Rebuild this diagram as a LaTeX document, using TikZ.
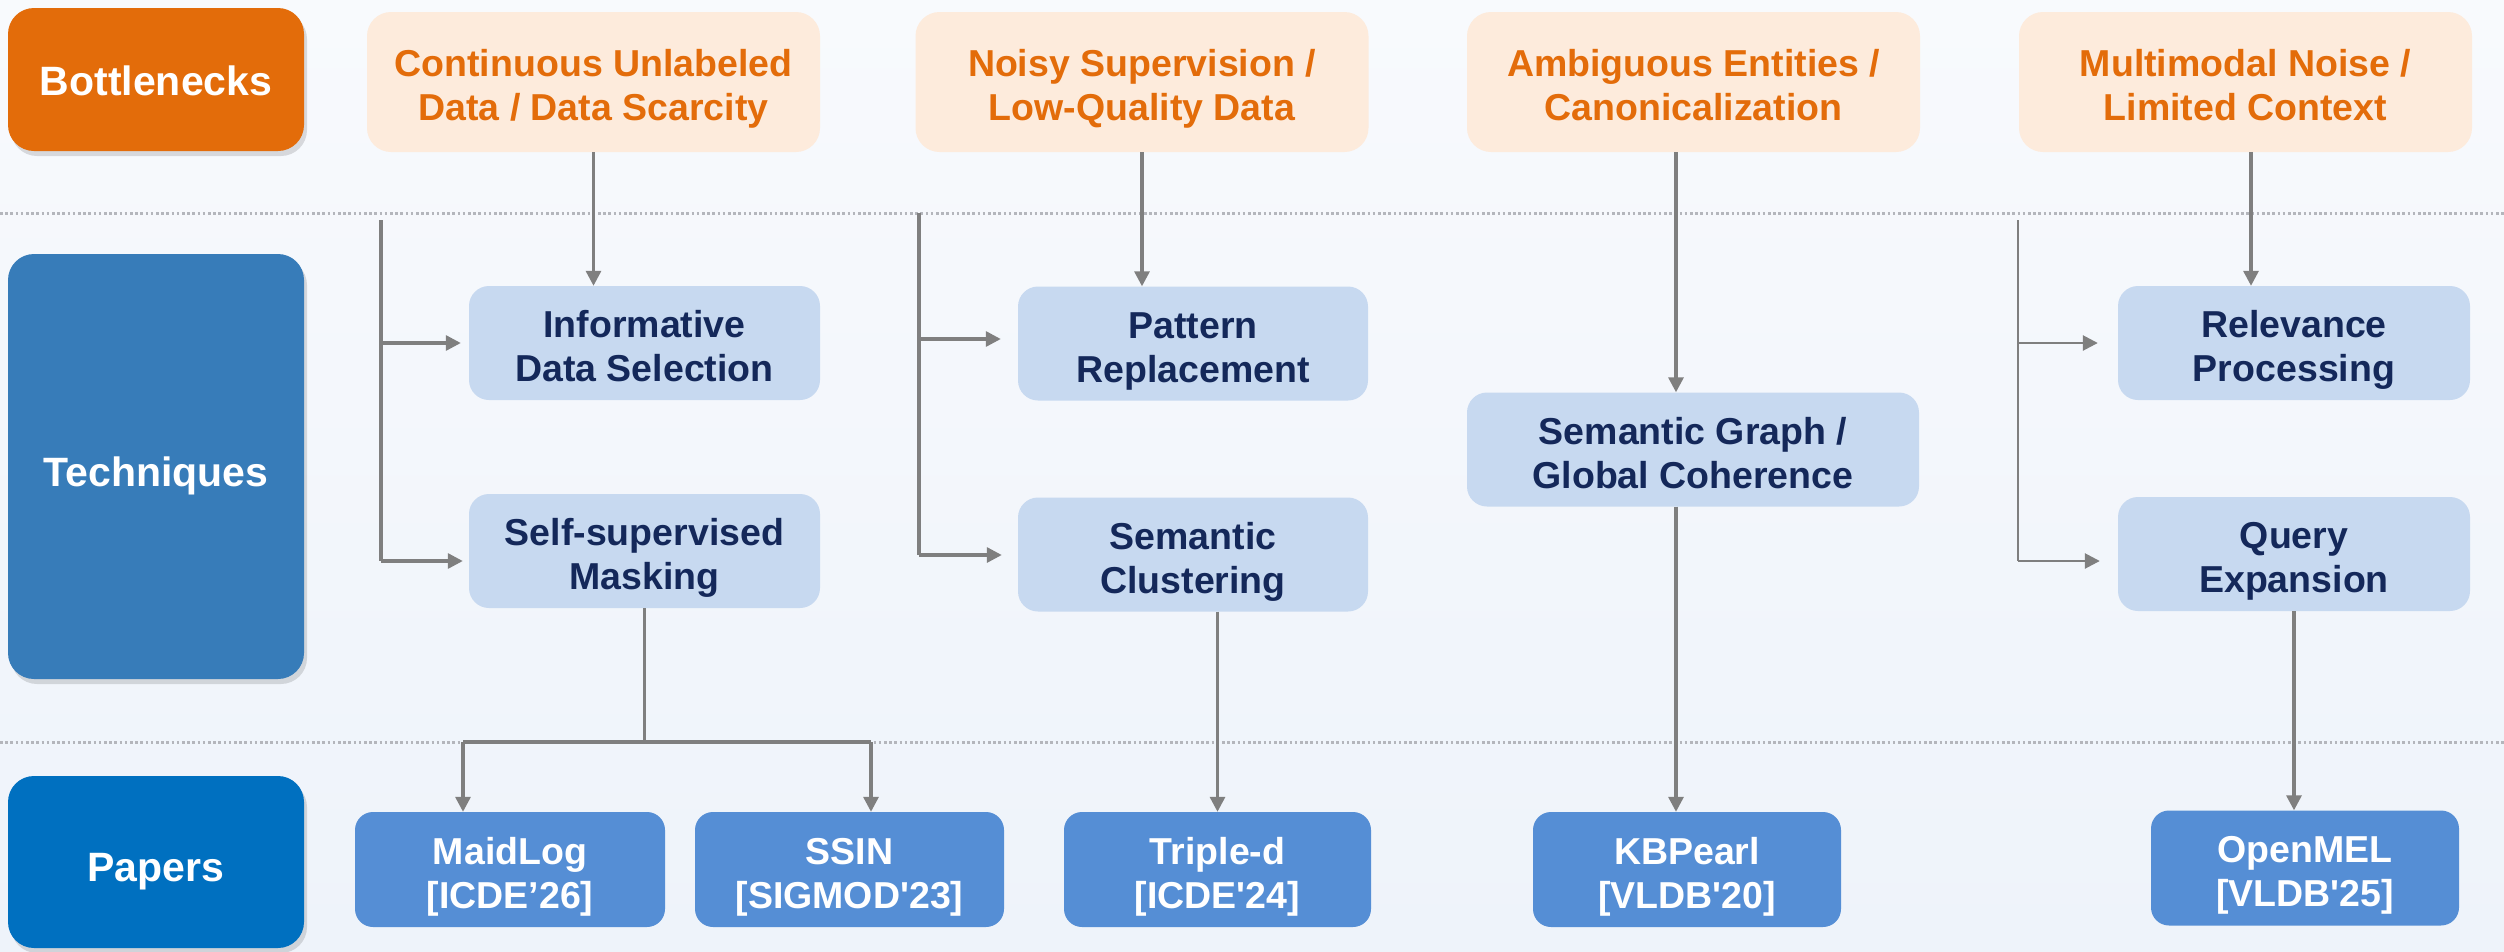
\documentclass[tikz,border=0pt]{standalone}
\usepackage{fontspec}
\newfontfamily\diafont{Liberation Sans}
\usetikzlibrary{arrows.meta,shadows}

\definecolor{bgtop}{RGB}{248,250,253}
\definecolor{bgbot}{RGB}{238,243,250}
\definecolor{orangebox}{RGB}{227,108,10}
\definecolor{techblue}{RGB}{55,124,185}
\definecolor{paperblue}{RGB}{0,112,192}
\definecolor{peach}{RGB}{253,235,220}
\definecolor{issuetext}{RGB}{227,108,10}
\definecolor{techfill}{RGB}{199,217,240}
\definecolor{navy}{RGB}{20,40,90}
\definecolor{paperfill}{RGB}{85,142,213}
\definecolor{linkgray}{RGB}{127,127,127}
\definecolor{sepgray}{RGB}{180,182,188}

\begin{document}
\begin{tikzpicture}[x=1pt,y=-1pt,
  % two-line labels: the text box reaches from a little above the cap line
  % of the first line down to the baseline of the second
  txt/.style={align=center, inner sep=0pt,
    font=\diafont\bfseries\fontsize{37.5}{44}\selectfont,
    text height=77.5pt, text depth=0pt},
  cat/.style={align=center, inner sep=0pt, rounded corners=26pt, text=white,
    font=\diafont\bfseries\fontsize{41}{48}\selectfont,
    text height=32.5pt, text depth=0pt,
    minimum width=296pt,
    drop shadow={shadow xshift=3pt, shadow yshift=-5pt, opacity=0.13, fill=black}},
  issue/.style={txt, fill=peach, rounded corners=24pt, text=issuetext,
    minimum width=453pt, minimum height=140pt},
  tech/.style={txt, fill=techfill, rounded corners=20pt, text=navy,
    minimum height=114pt},
  paper/.style={txt, fill=paperfill, rounded corners=18pt, text=white,
    minimum width=308pt, minimum height=115pt},
  link/.style={draw=linkgray, line width=3.2pt},
  arr/.style={link, -{Triangle[length=15pt,width=15pt]}},
  sep/.style={draw=sepgray, line width=3pt, dash pattern=on 2.6pt off 2.6pt}
]
\useasboundingbox (0,0) rectangle (2504,951);
\shade[top color=bgtop, bottom color=bgbot] (0,0) rectangle (2504,951);

% row separators
\coordinate (sepA) at (0,213);
\coordinate (sepB) at (0,742);
\draw[sep] (sepA) -- ++(2504,0);
\draw[sep] (sepB) -- ++(2504,0);

% row headers
\node[cat, fill=orangebox, minimum height=143pt] (hb) at (156,79.5) {Bottlenecks};
\node[cat, fill=techblue, minimum height=425pt, text height=39.5pt] (ht) at (156,466.5) {Techniques};
\node[cat, fill=paperblue, minimum height=172pt, text height=39.5pt] (hp) at (156,862) {Papers};

% bottlenecks
\node[issue] (b1) at (593.5,82) {Continuous Unlabeled\\Data / Data Scarcity};
\node[issue] (b2) at (1142,82) {Noisy Supervision /\\Low-Quality Data};
\node[issue] (b3) at (1693.5,82) {Ambiguous Entities /\\Canonicalization};
\node[issue] (b4) at (2245.5,82) {Multimodal Noise /\\Limited Context};

% techniques
\node[tech, minimum width=351pt] (t1) at (644.5,343) {Informative\\Data Selection};
\node[tech, minimum width=351pt] (t2) at (644.5,551) {Self-supervised\\Masking};
\node[tech, minimum width=350pt] (t3) at (1193,343.5) {Pattern\\Replacement};
\node[tech, minimum width=350pt] (t4) at (1193,554.5) {Semantic\\Clustering};
\node[tech, minimum width=452pt] (t5) at (1693,449.5) {Semantic Graph /\\Global Coherence};
\node[tech, minimum width=352pt] (t6) at (2294,343) {Relevance\\Processing};
\node[tech, minimum width=352pt] (t7) at (2294,554) {Query\\Expansion};

% papers
\node[paper, minimum width=310pt] (p1) at (510,869.5) {MaidLog\\{[ICDE’26]}};
\node[paper, minimum width=309pt] (p2) at (849.5,869.5) {SSIN\\{[SIGMOD'23]}};
\node[paper, minimum width=307pt] (p3) at (1217.5,869.5) {Triple-d\\{[ICDE'24]}};
\node[paper] (p4) at (1687,869.5) {KBPearl\\{[VLDB'20]}};
\node[paper] (p5) at (2305,868) {OpenMEL\\{[VLDB'25]}};

% bottleneck -> technique
\coordinate (c3) at (1676,0);
\coordinate (c4) at (2251,0);
\draw[arr] (b1.south) -- (b1.south |- t1.north);
\draw[arr] (b2.south) -- (b2.south |- t3.north);
\draw[arr] (b3.south -| c3) -- (t5.north -| c3);
\draw[arr] (b4.south -| c4) -- (t6.north -| c4);

% bracket feeding column 1
\coordinate (k1) at (381,220);
\coordinate (k1b) at (381,561);
\draw[link] (k1) -- (k1b);
\draw[arr, shorten >=8pt] (k1 |- t1.west) -- (t1.west);
\draw[arr, shorten >=6pt] (k1b) -- (k1b -| t2.west);

% bracket feeding column 2
\coordinate (k2) at (919,213);
\coordinate (k2a) at (919,339);
\coordinate (k2b) at (919,555);
\draw[link] (k2) -- (k2b);
\draw[arr, shorten >=17pt] (k2a) -- (k2a -| t3.west);
\draw[arr, shorten >=16pt] (k2b) -- (k2b -| t4.west);

% bracket feeding column 4
\coordinate (k4) at (2018,220);
\coordinate (k4a) at (2018,343);
\coordinate (k4b) at (2018,561);
\draw[link, line width=2.6pt] (k4) -- (k4b);
\draw[arr, line width=2.6pt, shorten >=20pt] (k4a) -- (k4a -| t6.west);
\draw[arr, line width=2.6pt, shorten >=18pt] (k4b) -- (k4b -| t7.west);

% technique -> paper
\coordinate (f1) at (463,742);
\coordinate (f2) at (871,742);
\draw[link] (t2.south) -- (t2.south |- sepB);
\draw[link] (f1) -- (f2);
\draw[arr] (f1) -- (f1 |- p1.north);
\draw[arr] (f2) -- (f2 |- p2.north);
\draw[arr] (p3.north |- t4.south) -- (p3.north);
\draw[arr] (t5.south -| c3) -- (p4.north -| c3);
\draw[arr] (t7.south) -- (t7.south |- p5.north);
\end{tikzpicture}
\end{document}
